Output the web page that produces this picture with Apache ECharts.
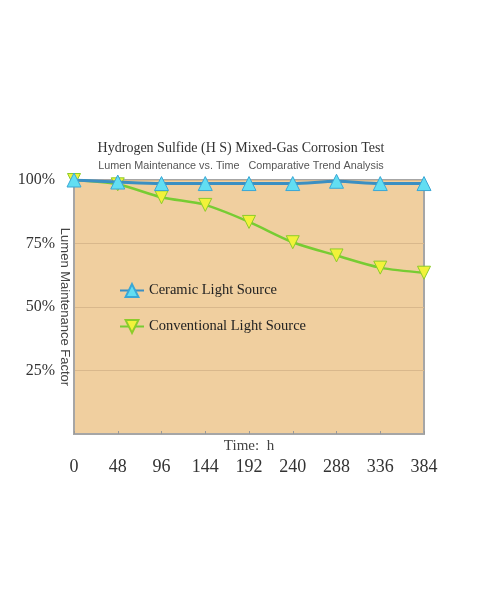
<!DOCTYPE html>
<html><head><meta charset="utf-8">
<script src="https://cdn.jsdelivr.net/npm/echarts@6/dist/echarts.min.js"></script>
<style>html,body{margin:0;padding:0;background:#fff}#c{width:482px;height:599px}</style>
</head><body><div id="c"></div>
<script>
var categories = ['0','48','96','144','192','240','288','336','384'];
var ceramic = [100, 99.2, 98.6, 98.6, 98.6, 98.6, 99.5, 98.6, 98.6];
var conventional = [100, 98.3, 93.2, 90.2, 83.5, 75.5, 70.3, 65.5, 63.5];
var yTicks = [0, 25, 50, 75, 100];
var seriesNames = ['Ceramic Light Source', 'Conventional Light Source'];

var chart = echarts.init(document.getElementById('c'));
chart.setOption({
  backgroundColor: '#ffffff',
  animation: false,
  title: {
    text: 'Hydrogen Sulfide (H S) Mixed-Gas Corrosion Test',
    subtext: 'Lumen Maintenance vs. Time   Comparative Trend Analysis',
    left: 'center', top: 136, itemGap: 6,
    textStyle: {fontFamily: 'Liberation Serif', fontSize: 14, fontWeight: 'normal', color: '#333'},
    subtextStyle: {fontFamily: 'Liberation Sans', fontSize: 10.8, color: '#555'}
  },
  legend: {
    orient: 'vertical', left: 114, top: 278, itemGap: 21,
    itemWidth: 24, itemHeight: 16,
    textStyle: {fontFamily: 'Liberation Serif', fontSize: 14.5, color: '#222'},
    data: seriesNames
  },
  grid: {left: 74, right: 58, top: 180, bottom: 165, show: true,
    backgroundColor: '#f0cf9f', borderColor: '#a6a6a6', borderWidth: 2},
  xAxis: {
    type: 'category', data: categories, boundaryGap: false,
    name: 'Time:  h', nameLocation: 'middle', nameGap: 5, nameMoveOverlap: false,
    nameTextStyle: {fontFamily: 'Liberation Serif', fontSize: 15, color: '#444'},
    axisLine: {show: true, lineStyle: {color: '#a6a6a6', width: 2}},
    axisTick: {show: true, inside: true, length: 3, lineStyle: {color: '#999'}},
    axisLabel: {margin: 24, fontFamily: 'Liberation Serif', fontSize: 18, color: '#333'},
    splitLine: {show: false}
  },
  yAxis: {
    type: 'value', min: 0, max: 100, interval: 25,
    name: 'Lumen Maintenance Factor', nameLocation: 'middle', nameGap: 3, nameRotate: -90,
    nameMoveOverlap: false,
    nameTextStyle: {fontFamily: 'Liberation Sans', fontSize: 13, color: '#444'},
    axisLine: {show: true, lineStyle: {color: '#a6a6a6', width: 2}},
    axisTick: {show: false},
    axisLabel: {margin: 19, showMinLabel: false, fontFamily: 'Liberation Serif', fontSize: 16, color: '#333',
      formatter: function(v){ return v + '%'; }},
    splitLine: {show: true, lineStyle: {color: '#d9b88c', width: 1}}
  },
  series: [
    {name: seriesNames[0], type: 'line', data: ceramic, smooth: 0.3,
      symbol: 'triangle', symbolSize: 14,
      lineStyle: {color: '#3b8fc2', width: 3},
      itemStyle: {color: '#62def2', borderColor: '#3aa7d6', borderWidth: 1}, z: 3},
    {name: seriesNames[1], type: 'line', data: conventional, smooth: 0.3,
      symbol: 'triangle', symbolRotate: 180, symbolSize: 13,
      lineStyle: {color: '#77cc33', width: 2.5},
      itemStyle: {color: '#f2f23a', borderColor: '#8ccc2a', borderWidth: 1}, z: 2}
  ]
});
</script></body></html>
